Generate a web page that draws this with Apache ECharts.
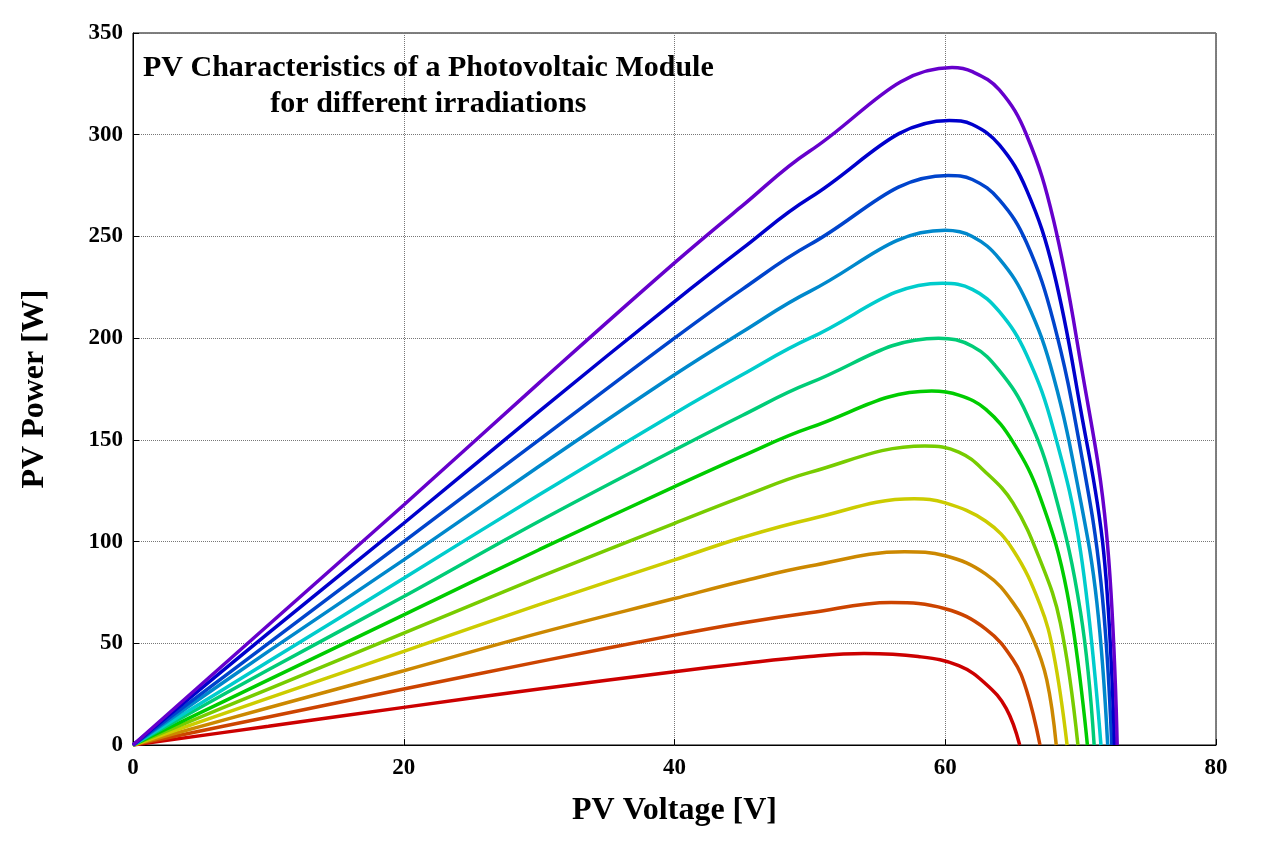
<!DOCTYPE html>
<html>
<head>
<meta charset="utf-8">
<script src="https://cdn.jsdelivr.net/npm/echarts@6/dist/echarts.min.js"></script>
<style>html,body{margin:0;padding:0;background:#fff}#chart{width:1280px;height:852px}</style>
</head>
<body>
<div id="chart"></div>
<script>
// curve data, lowest irradiation first
const voltages = [
    [0, 10, 20, 30, 40, 45, 50, 54, 58, 61, 63, 64.5, 65.5],
    [0, 10, 20, 30, 40, 45, 50, 56, 60, 63, 65, 66, 67],
    [0, 10, 20, 30, 40, 45, 50, 57, 60, 63, 65, 66.5, 67.5, 68.2],
    [0, 10, 20, 30, 40, 45, 50, 57.7, 60, 63, 65, 67, 68, 69],
    [0, 10, 20, 30, 40, 45, 50, 58.5, 61, 63, 65, 67, 68.5, 69.8],
    [0, 10, 20, 30, 40, 45, 50, 59, 61, 63, 65, 67, 69, 70.5],
    [0, 10, 20, 30, 40, 45, 50, 59.5, 62, 64, 66, 68, 70, 71],
    [0, 10, 20, 30, 40, 45, 50, 59.8, 62, 64, 66, 68, 70, 71.5],
    [0, 10, 20, 30, 40, 45, 50, 60, 62, 64, 66, 68, 70, 71.2, 72],
    [0, 10, 20, 30, 40, 45, 50, 60.2, 62, 64, 66, 68, 70, 71.5, 72.3],
    [0, 10, 20, 30, 40, 45, 50, 60.3, 62, 64, 66, 68, 70, 71.7, 72.5],
    [0, 10, 20, 30, 40, 45, 50, 60.5, 62, 64, 66, 68, 70, 71.9, 72.7]
];
const powers = [
    [0, 9.2, 18.5, 27.5, 36, 40, 43.5, 45, 43.5, 39, 30, 18, 0],
    [0, 13.8, 27.5, 41, 54, 60, 65, 70, 67, 57, 42, 27, 0],
    [0, 18.3, 36.5, 55, 72, 80.5, 88, 95, 93, 84, 70, 52, 32, 0],
    [0, 23, 46, 69, 91, 102, 111, 121, 119, 110, 96, 69, 45, 0],
    [0, 27.5, 55, 82.5, 109, 122, 134, 147, 144, 134, 119, 91, 60, 0],
    [0, 32, 64, 96, 127, 142, 156, 174, 172, 165, 149, 122, 75, 0],
    [0, 37, 73, 110, 145, 162, 178, 200, 196, 184, 163, 126, 65, 0],
    [0, 41, 82, 123, 163, 182, 200, 227, 224, 213, 192, 155, 95, 0],
    [0, 46, 91, 137, 182, 203, 223, 253, 250, 239, 218, 181, 120, 70, 0],
    [0, 50, 100, 150, 200, 224, 246, 280, 278, 268, 247, 208, 145, 80, 0],
    [0, 55, 109, 164, 218, 244, 269, 307, 305, 295, 273, 233, 165, 95, 0],
    [0, 59, 118, 178, 237, 265, 292, 333, 331, 322, 300, 258, 188, 105, 0]
];
const colors = ['#cc0000', '#cc4400', '#cc8800', '#cccc00', '#77cc00', '#00cc00',
    '#00cc77', '#00cccc', '#0088cc', '#0044cc', '#0000cc', '#6600cc'];

const font = '"Liberation Serif", "Times New Roman", serif';

const series = voltages.map((vs, i) => ({
    type: 'line',
    data: vs.map((v, j) => [v, powers[i][j]]),
    smooth: 0.4,
    showSymbol: false,
    lineStyle: { color: colors[i], width: 3.5 },
    z: 3
}));

const chart = echarts.init(document.getElementById('chart'));
chart.setOption({
    animation: false,
    grid: { left: 133, right: 64, top: 33, bottom: 107, show: true, borderColor: '#000', borderWidth: 1 },
    xAxis: {
        type: 'value', min: 0, max: 80, interval: 20,
        name: 'PV Voltage [V]', nameLocation: 'middle', nameGap: 50,
        nameTextStyle: { fontFamily: font, fontWeight: 'bold', fontSize: 32, color: '#000' },
        axisLine: { lineStyle: { color: '#000' } },
        axisTick: { inside: true, length: 6, lineStyle: { color: '#000' } },
        axisLabel: { fontFamily: font, fontWeight: 'bold', fontSize: 23, color: '#000', margin: 12 },
        splitLine: { lineStyle: { type: 'dotted', color: '#777' } }
    },
    yAxis: {
        type: 'value', min: 0, max: 350, interval: 50,
        name: 'PV Power [W]', nameLocation: 'middle', nameGap: 82,
        nameTextStyle: { fontFamily: font, fontWeight: 'bold', fontSize: 32, color: '#000' },
        axisLine: { lineStyle: { color: '#000' } },
        axisTick: { inside: true, length: 6, lineStyle: { color: '#000' } },
        axisLabel: { fontFamily: font, fontWeight: 'bold', fontSize: 23, color: '#000', margin: 10 },
        splitLine: { lineStyle: { type: 'dotted', color: '#777' } }
    },
    graphic: [{
        type: 'text', left: 143, top: 50, z: 10,
        style: {
            text: 'PV Characteristics of a Photovoltaic Module\nfor different irradiations',
            font: 'bold 30px ' + font, fill: '#000', align: 'center', lineHeight: 36,
            x: 342, textAlign: 'center'
        }
    }],
    series: series
});
</script>
</body>
</html>
